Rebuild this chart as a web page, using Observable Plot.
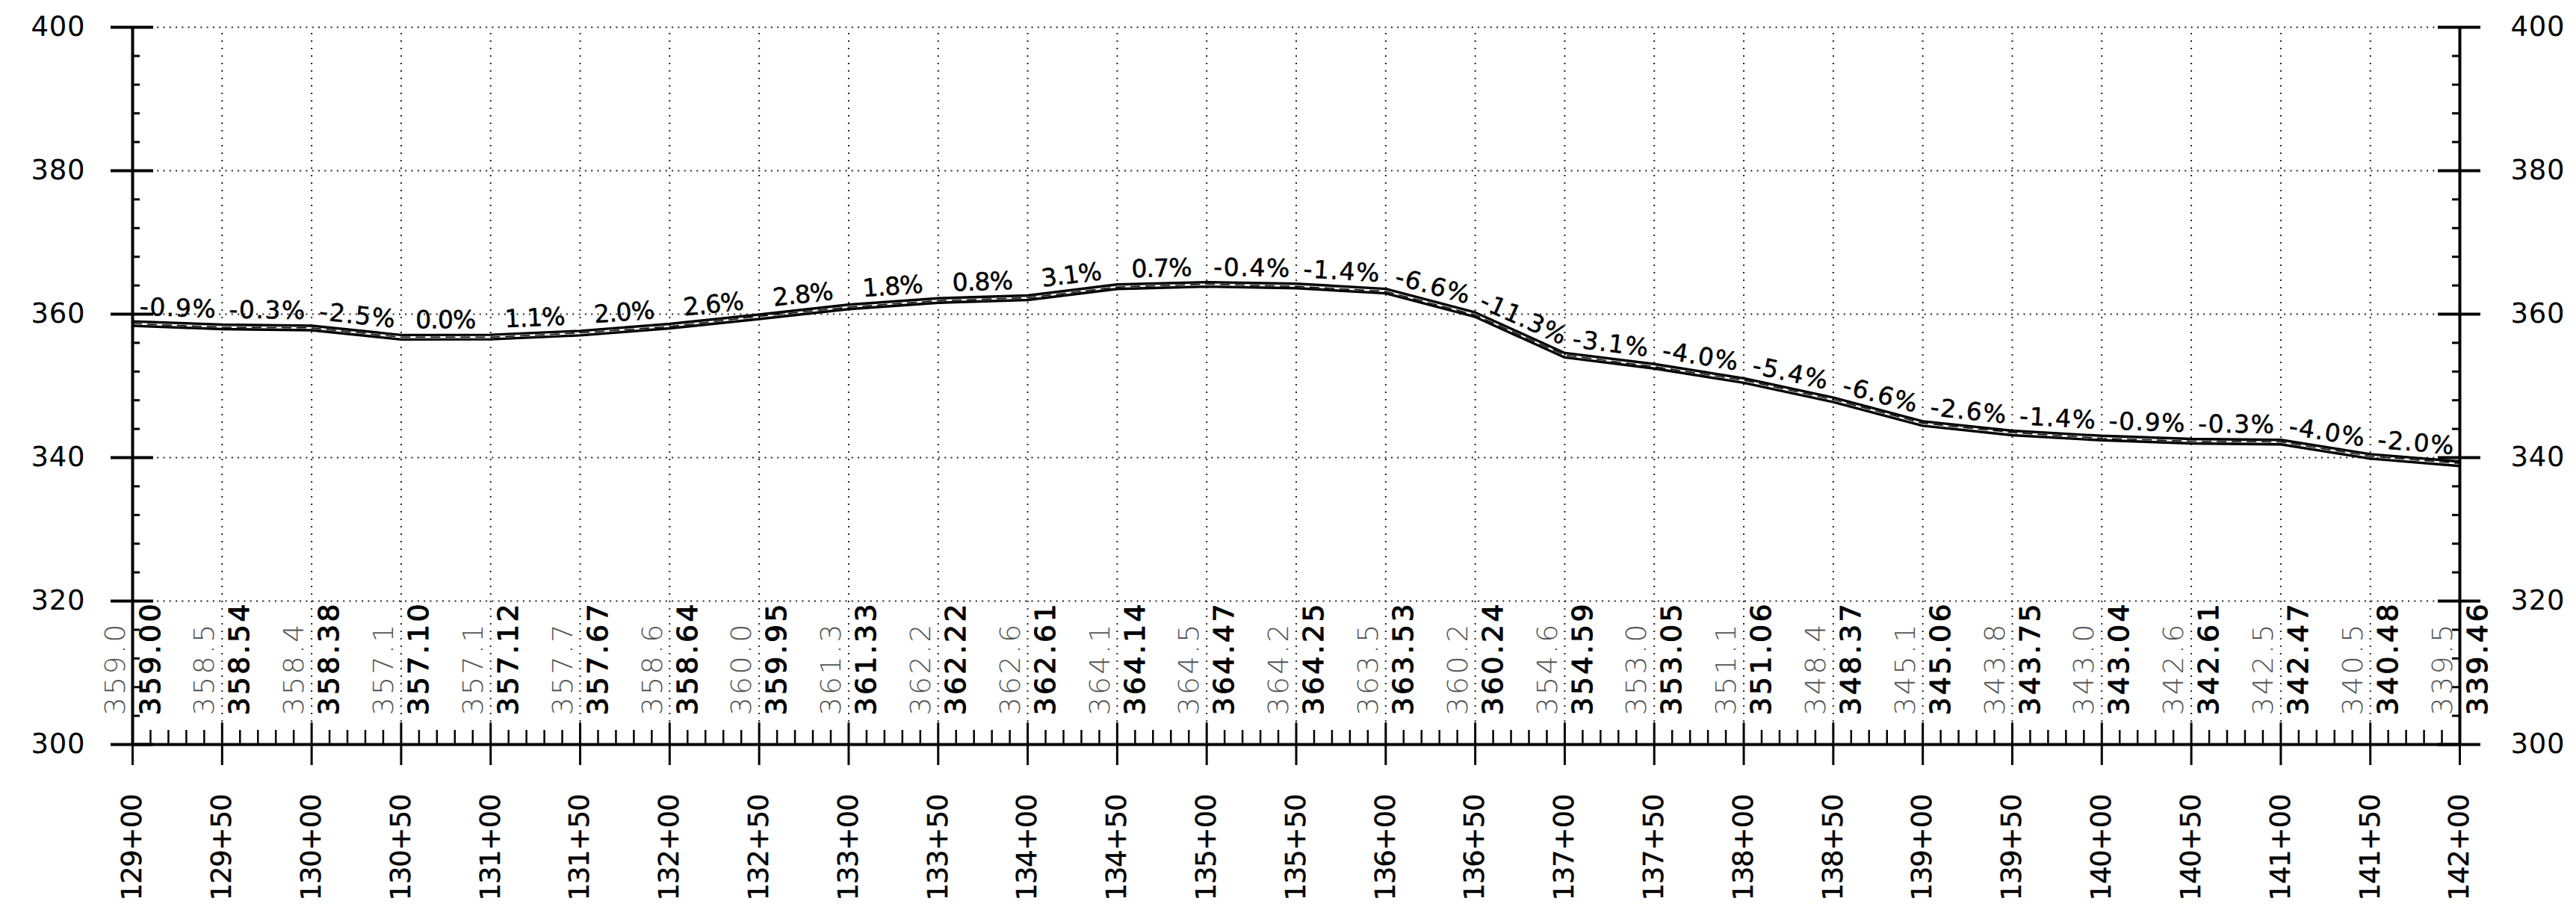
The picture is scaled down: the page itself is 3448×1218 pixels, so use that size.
<!DOCTYPE html>
<html><head><meta charset="utf-8">
<script src="https://cdn.jsdelivr.net/npm/d3@7"></script>
<script src="https://cdn.jsdelivr.net/npm/@observablehq/plot@0.6"></script>
<style>
html,body{margin:0;padding:0;background:#fff;}
</style>
</head><body><div id="chart"></div>
<script>
// ---- data ----
const stations = [12900,12950,13000,13050,13100,13150,13200,13250,13300,13350,13400,13450,13500,13550,13600,13650,13700,13750,13800,13850,13900,13950,14000,14050,14100,14150,14200];
const stationLabels = ["129+00","129+50","130+00","130+50","131+00","131+50","132+00","132+50","133+00","133+50","134+00","134+50","135+00","135+50","136+00","136+50","137+00","137+50","138+00","138+50","139+00","139+50","140+00","140+50","141+00","141+50","142+00"];
const proposed = [359.00,358.54,358.38,357.10,357.12,357.67,358.64,359.95,361.33,362.22,362.61,364.14,364.47,364.25,363.53,360.24,354.59,353.05,351.06,348.37,345.06,343.75,343.04,342.61,342.47,340.48,339.46];
const proposedLabels = ["359.00","358.54","358.38","357.10","357.12","357.67","358.64","359.95","361.33","362.22","362.61","364.14","364.47","364.25","363.53","360.24","354.59","353.05","351.06","348.37","345.06","343.75","343.04","342.61","342.47","340.48","339.46"];
const existing = [359.0,358.5,358.4,357.1,357.1,357.7,358.6,360.0,361.3,362.2,362.6,364.1,364.5,364.2,363.5,360.2,354.6,353.0,351.1,348.4,345.1,343.8,343.0,342.6,342.5,340.5,339.5];
const existingLabels = ["359.0","358.5","358.4","357.1","357.1","357.7","358.6","360.0","361.3","362.2","362.6","364.1","364.5","364.2","363.5","360.2","354.6","353.0","351.1","348.4","345.1","343.8","343.0","342.6","342.5","340.5","339.5"];
const grades = ["-0.9%","-0.3%","-2.5%","0.0%","1.1%","2.0%","2.6%","2.8%","1.8%","0.8%","3.1%","0.7%","-0.4%","-1.4%","-6.6%","-11.3%","-3.1%","-4.0%","-5.4%","-6.6%","-2.6%","-1.4%","-0.9%","-0.3%","-4.0%","-2.0%"];
const yTicks = [300,320,340,360,380,400];
const yTickLabels = ["300","320","340","360","380","400"];

// ---- layout ----
const W = 3448, H = 1218;
const mL = 177, mR = 156, mT = 36, mB = 222;
const xDomain = [12900, 14200], yDomain = [300, 400];
const kx = (W - mL - mR) / (xDomain[1] - xDomain[0]);
const ky = (H - mT - mB) / (yDomain[1] - yDomain[0]);

const profile = stations.map((s, i) => ({s, p: proposed[i], e: existing[i], pl: proposedLabels[i], el: existingLabels[i], sl: stationLabels[i]}));
const gradeData = grades.map((g, i) => ({
  x: (stations[i] + stations[i + 1]) / 2,
  y: (proposed[i] + proposed[i + 1]) / 2,
  label: g,
  angle: -Math.atan(((proposed[i + 1] - proposed[i]) * ky) / ((stations[i + 1] - stations[i]) * kx)) * 180 / Math.PI
}));
const interior = stations.slice(1, -1);
const minorX = d3.range(xDomain[0], xDomain[1] + 1, 10).filter(v => v % 50 !== 0);
const minorY = d3.range(yDomain[0], yDomain[1] + 1, 4).filter(v => v % 20 !== 0);
const yGrid = yTicks.filter(v => v !== 300);
const yLab = yTicks.map((v, i) => ({v, t: yTickLabels[i]}));

const chart = Plot.plot({
  width: W, height: H,
  marginLeft: mL, marginRight: mR, marginTop: mT, marginBottom: mB,
  x: {domain: xDomain, axis: null},
  y: {domain: yDomain, axis: null},
  style: {fontFamily: "DejaVu Sans", background: "white", color: "black"},
  marks: [
    // dotted grid
    Plot.ruleY(yGrid, {y: d => d, x1: xDomain[0], x2: xDomain[1], stroke: "#222", strokeWidth: 2, strokeDasharray: "2,6.3"}),
    Plot.ruleX(interior, {x: d => d, y1: 300, y2: 400, stroke: "#222", strokeWidth: 2, strokeDasharray: "2,8"}),
    // profile lines
    Plot.line(profile, {x: "s", y: "e", stroke: "black", strokeWidth: 1.5, strokeDasharray: "12,8", dy: 3}),
    Plot.line(profile, {x: "s", y: "p", stroke: "black", strokeWidth: 3.4}),
    Plot.line(profile, {x: "s", y: "p", stroke: "black", strokeWidth: 3.4, dy: 6}),
    // axes lines
    Plot.ruleX([xDomain[0], xDomain[1]], {x: d => d, y1: 300, y2: 400, stroke: "black", strokeWidth: 4}),
    Plot.ruleY([300], {y: d => d, x1: xDomain[0], x2: xDomain[1], stroke: "black", strokeWidth: 4}),
    // y major ticks both sides
    Plot.ruleY(yTicks, {y: d => d, x1: xDomain[0], x2: xDomain[0], insetLeft: -29, insetRight: -28, stroke: "black", strokeWidth: 4}),
    Plot.ruleY(yTicks, {y: d => d, x1: xDomain[1], x2: xDomain[1], insetLeft: -29, insetRight: -28, stroke: "black", strokeWidth: 4}),
    // y minor ticks
    Plot.ruleY(minorY, {y: d => d, x1: xDomain[0], x2: xDomain[0], insetLeft: 0, insetRight: -10, stroke: "black", strokeWidth: 3}),
    Plot.ruleY(minorY, {y: d => d, x1: xDomain[1], x2: xDomain[1], insetLeft: -10, insetRight: 0, stroke: "black", strokeWidth: 3}),
    // station ticks
    Plot.ruleX(stations, {x: d => d, y1: 300, y2: 300, insetTop: -29, insetBottom: -28, stroke: "black", strokeWidth: 3}),
    Plot.ruleX(minorX, {x: d => d, y1: 300, y2: 300, insetTop: -19, insetBottom: 0, stroke: "black", strokeWidth: 2.5}),
    // text marks (order matters for the cell-width step below)
    Plot.text(yLab, {x: xDomain[0], y: "v", text: "t", dx: -64, textAnchor: "end", lineAnchor: "middle", fontSize: 37, fill: "black"}),
    Plot.text(yLab, {x: xDomain[1], y: "v", text: "t", dx: 68, textAnchor: "start", lineAnchor: "middle", fontSize: 37, fill: "black"}),
    Plot.text(profile, {x: "s", y: 300, text: "sl", dy: 209, rotate: -90, textAnchor: "start", lineAnchor: "middle", fontSize: 37, fill: "black", stroke: "black", strokeWidth: 0.4}),
    Plot.text(profile, {x: "s", y: 300, text: "el", dx: -23, dy: -39, rotate: -90, textAnchor: "start", lineAnchor: "middle", fontSize: 38, fontWeight: 200, fill: "#555"}),
    Plot.text(profile, {x: "s", y: 300, text: "pl", dx: 24, dy: -39, rotate: -90, textAnchor: "start", lineAnchor: "middle", fontSize: 38, fill: "black", stroke: "black", strokeWidth: 1.0}),
    Plot.text(gradeData, {x: "x", y: "y", text: "label", rotate: "angle", dy: -9, textAnchor: "middle", lineAnchor: "bottom", fontSize: 33, fill: "black", stroke: "black", strokeWidth: 0.5})
  ]
});
document.getElementById("chart").appendChild(chart);

// CAD-style fixed cell width for the labels (text stays real text)
const cells = [24.7, 24.7, 24.2, 24.8, 25.2, 20.8];
const textGroups = chart.querySelectorAll('g[aria-label="text"]');
textGroups.forEach((g, gi) => {
  const c = cells[gi];
  if (!c) return;
  g.querySelectorAll("text").forEach(t => {
    const n = t.textContent.length;
    t.setAttribute("textLength", c * n - 2);
    t.setAttribute("lengthAdjust", "spacing");
  });
});
</script>
</body></html>
